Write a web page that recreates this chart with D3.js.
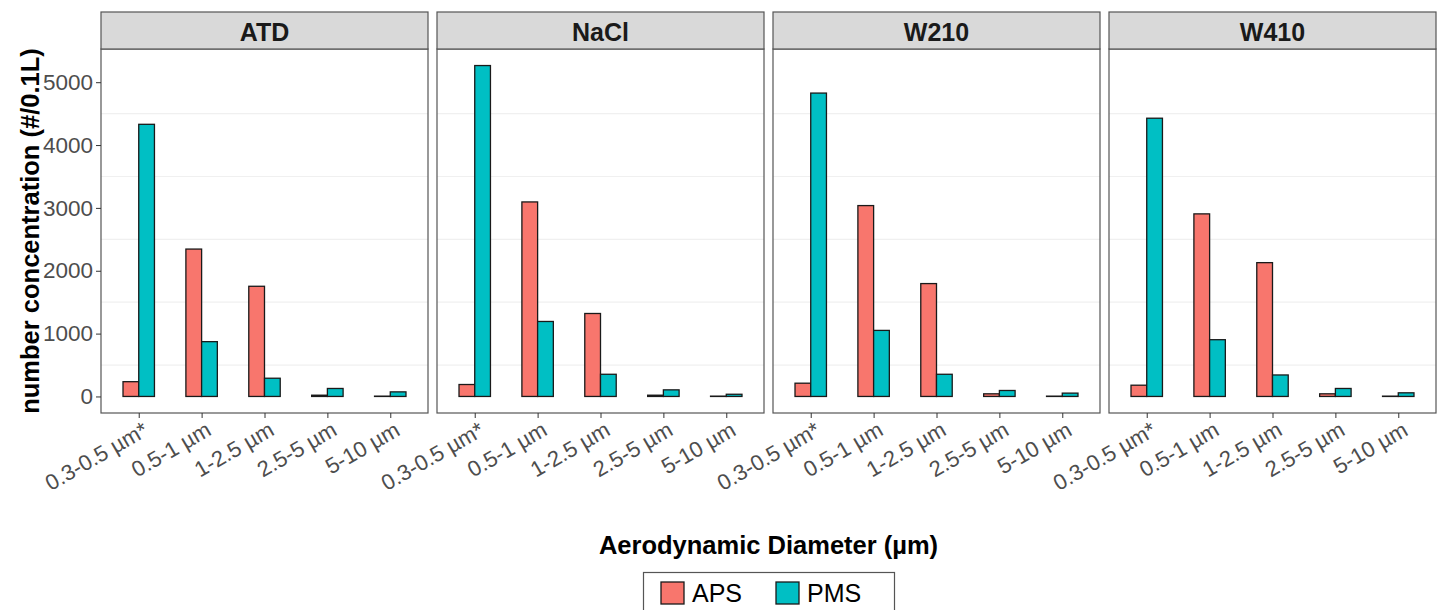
<!DOCTYPE html>
<html>
<head>
<meta charset="utf-8">
<script src="https://cdn.jsdelivr.net/npm/d3@7"></script>
<style>
  body { margin: 0; background: #fff; }
  svg { display: block; font-family: "Liberation Sans", Arial, sans-serif; }
</style>
</head>
<body>
<svg id="chart" width="1440" height="610"></svg>
<script>
const facets = ['ATD', 'NaCl', 'W210', 'W410']
const sizes = ['0.3-0.5 µm*', '0.5-1 µm', '1-2.5 µm', '2.5-5 µm', '5-10 µm']
const instruments = ['APS', 'PMS']
const colors = ['#F8766D', '#00BFC4']

// one array per facet & instrument, in the order of sizes
const apsATD = [235, 2345, 1753, 20, 5]
const pmsATD = [4330, 872, 290, 127, 73]
const apsNaCl = [190, 3095, 1320, 20, 5]
const pmsNaCl = [5265, 1193, 353, 105, 35]
const apsW210 = [211, 3037, 1796, 42, 5]
const pmsW210 = [4827, 1051, 353, 95, 53]
const apsW410 = [179, 2905, 2129, 42, 5]
const pmsW410 = [4427, 903, 342, 127, 58]

const yTicks = [0, 1000, 2000, 3000, 4000, 5000]
const yMinor = [500, 1500, 2500, 3500, 4500]

const series = {
  ATD: [apsATD, pmsATD],
  NaCl: [apsNaCl, pmsNaCl],
  W210: [apsW210, pmsW210],
  W410: [apsW410, pmsW410]
}

const svg = d3.select('#chart')

const panelLeft = 101, panelW = 327, panelGap = 9
const stripTop = 12, panelTop = 49, panelBottom = 413

const maxVal = d3.max(Object.values(series).flat(2))
const y = d3.scaleLinear()
  .domain([-maxVal * 0.05, maxVal * 1.05])
  .range([panelBottom, panelTop])

const fx = d3.scaleBand()
  .domain(facets)
  .range([panelLeft, panelLeft + 4 * panelW + 3 * panelGap])
  .paddingInner(panelGap / (panelW + panelGap))

facets.forEach((f, fi) => {

  const x0 = fx(f)
  const x = d3.scalePoint()
    .domain(sizes)
    .range([x0, x0 + panelW])
    .padding(0.6)
  const step = x.step()
  const sub = d3.scaleBand()
    .domain(instruments)
    .range([-step * 0.25, step * 0.25])

  const g = svg.append('g')

  g.append('rect')
    .attr('x', x0).attr('y', panelTop)
    .attr('width', panelW).attr('height', panelBottom - panelTop)
    .attr('fill', '#fff')

  g.selectAll('.minor')
    .data(yMinor)
    .enter()
    .append('line')
    .attr('x1', x0).attr('x2', x0 + panelW)
    .attr('y1', d => y(d)).attr('y2', d => y(d))
    .attr('stroke', '#f0f0f0')
    .attr('stroke-width', 1.2)

  instruments.forEach((ins, ii) => {
    g.selectAll('.bar-' + ins)
      .data(series[f][ii])
      .enter()
      .append('rect')
      .attr('x', (d, i) => x(sizes[i]) + sub(ins))
      .attr('width', sub.bandwidth())
      .attr('y', d => y(d))
      .attr('height', d => Math.max(0, y(0) - y(d)))
      .attr('fill', colors[ii])
      .attr('stroke', '#1a1a1a')
      .attr('stroke-width', 1.3)
  })

  g.append('rect')
    .attr('x', x0).attr('y', panelTop)
    .attr('width', panelW).attr('height', panelBottom - panelTop)
    .attr('fill', 'none')
    .attr('stroke', '#555')
    .attr('stroke-width', 1.2)

  // strip
  g.append('rect')
    .attr('x', x0).attr('y', stripTop)
    .attr('width', panelW).attr('height', panelTop - stripTop)
    .attr('fill', '#d9d9d9')
    .attr('stroke', '#555')
    .attr('stroke-width', 1.2)

  g.append('text')
    .attr('x', x0 + panelW / 2)
    .attr('y', (stripTop + panelTop) / 2 + 1)
    .attr('text-anchor', 'middle')
    .attr('dominant-baseline', 'central')
    .style('font-size', '25px')
    .style('font-weight', 'bold')
    .attr('fill', '#1a1a1a')
    .text(f)

  // x axis
  const xAxis = g.append('g')
    .attr('transform', `translate(0,${panelBottom})`)
    .call(d3.axisBottom(x).tickSize(5).tickSizeOuter(0))
  xAxis.select('.domain').remove()
  xAxis.selectAll('line').attr('stroke', '#333')
  xAxis.selectAll('text')
    .attr('fill', '#4d4d4d')
    .style('font-size', '22px')
    .attr('text-anchor', 'end')
    .attr('dy', '0.72em')
    .attr('y', 9)
    .attr('x', 3)
    .attr('transform', 'rotate(-30,0,9)')

  if (fi === 0) {
    const yAxis = g.append('g')
      .attr('transform', `translate(${x0},0)`)
      .call(d3.axisLeft(y).tickValues(yTicks).tickFormat(d3.format('d')).tickSize(5).tickSizeOuter(0))
    yAxis.select('.domain').remove()
    yAxis.selectAll('line').attr('stroke', '#333')
    yAxis.selectAll('text')
      .attr('fill', '#4d4d4d')
      .style('font-size', '22.5px')
      .attr('x', -8)
  }
})

// axis titles
svg.append('text')
  .attr('transform', `translate(30,${(panelTop + panelBottom) / 2}) rotate(-90)`)
  .attr('text-anchor', 'middle')
  .attr('dominant-baseline', 'central')
  .style('font-size', '25.5px')
  .style('font-weight', 'bold')
  .text('number concentration (#/0.1L)')

svg.append('text')
  .attr('x', (panelLeft + 1436) / 2)
  .attr('y', 545)
  .attr('text-anchor', 'middle')
  .attr('dominant-baseline', 'central')
  .style('font-size', '25.5px')
  .style('font-weight', 'bold')
  .text('Aerodynamic Diameter (µm)')

// legend
const legend = svg.append('g')
legend.append('rect')
  .attr('x', 643.5).attr('y', 572.5)
  .attr('width', 251).attr('height', 50)
  .attr('fill', '#fff')
  .attr('stroke', '#555')
  .attr('stroke-width', 1.2)

const legX = d3.scaleOrdinal().domain(instruments).range([661, 776])
instruments.forEach((ins, i) => {
  legend.append('rect')
    .attr('x', legX(ins)).attr('y', 582)
    .attr('width', 23).attr('height', 22)
    .attr('fill', colors[i])
    .attr('stroke', '#1a1a1a')
    .attr('stroke-width', 1.3)
  legend.append('text')
    .attr('x', legX(ins) + 31)
    .attr('y', 593)
    .attr('dominant-baseline', 'central')
    .style('font-size', '25px')
    .attr('fill', '#000')
    .text(ins)
})
</script>
</body>
</html>
